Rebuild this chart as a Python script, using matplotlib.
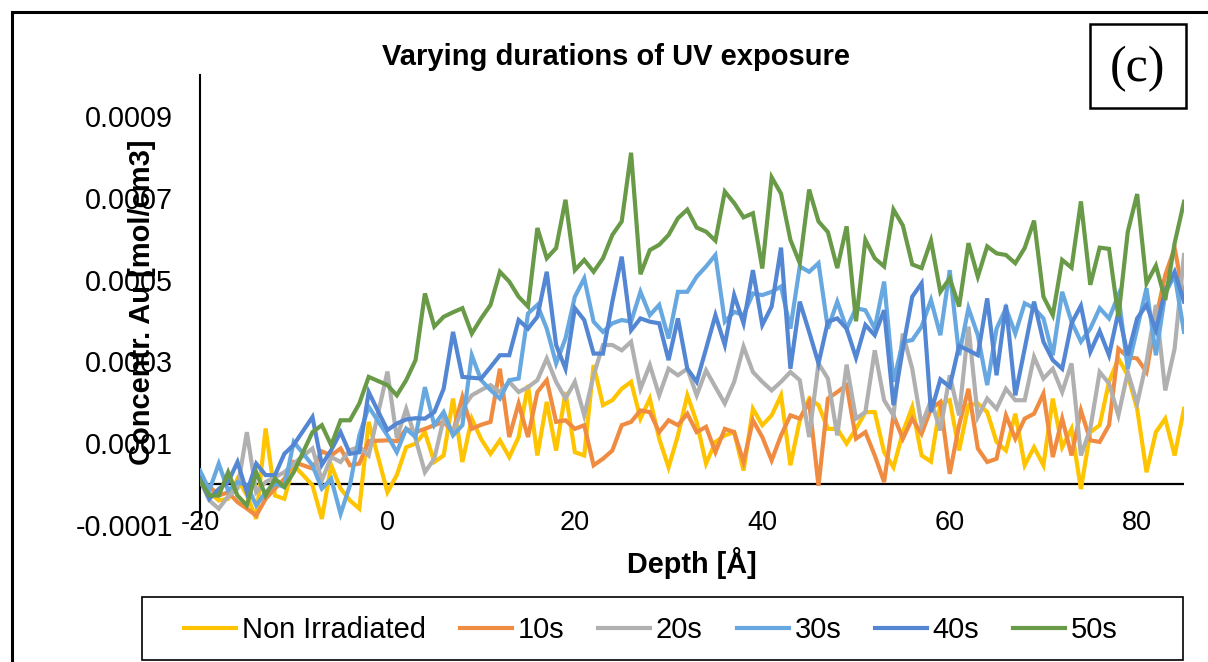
import numpy as np
import matplotlib
matplotlib.use("Agg")
import matplotlib.pyplot as plt
from matplotlib.patches import Rectangle
from matplotlib.lines import Line2D

plt.rcParams['font.family'] = ['Liberation Sans', 'DejaVu Sans']

# depth grid [A], one point per Angstrom
depth = np.arange(-20, 86)

# concentrations, in units of 1e-5 mol/cm3
non_irr = [0.5, -2.0, -4.0, -3.6, 1.3, -2.7, -8.5, 13.6, -2.8, -3.6, 4.6, 2.2, -0.3, -8.5, 4.6, -1.1, -4.0, -6.0, 15.2, 6.6, -2.0, 2.2,
           9.0, 9.9, 12.7, 5.4, 7.0, 20.9, 5.4, 16.0, 11.0, 7.4, 10.7, 6.6, 11.5, 24.2, 7.0, 20.1, 8.2, 22.5, 7.8, 7.0,
           29.1, 19.3, 20.5, 23.3, 25.0, 16.0, 20.9, 11.1, 4.1, 11.9, 21.7, 15.2, 5.0, 10.3, 11.9, 12.7, 3.3, 18.4, 14.4, 16.8, 21.7,
           4.6, 15.6, 20.9, 19.3, 13.5, 13.5, 9.9, 13.5, 17.6, 17.6, 7.8, 4.1, 12.7, 18.8, 7.0, 5.5, 19.7, 20.5, 8.2, 19.3, 19.7, 17.6,
           10.3, 8.2, 17.2, 4.6, 9.0, 4.6, 20.9, 9.0, 13.5, -1.2, 12.7, 14.4, 25.0, 30.7, 26.6, 18.4, 2.9, 12.7, 16.0, 7.0, 18.4]

uv_10s = [0.5, -0.5, -2.8, -2.0, -4.4, -6.0, -7.7, -3.6, -1.1, 1.3, 5.4, 4.6, 3.8, 8.0, 7.0, 8.7, 4.6, 5.0, 10.5, 10.6, 10.7, 10.5,
          13.5, 12.7, 13.5, 14.4, 15.2, 12.7, 21.3, 13.5, 14.5, 15.2, 28.2, 11.5, 19.7, 11.5, 22.5, 25.4, 15.2, 15.6, 13.5, 14.4,
          4.6, 6.2, 8.2, 14.4, 15.2, 18.0, 17.6, 12.7, 15.6, 14.4, 17.2, 12.7, 14.0, 7.8, 13.5, 12.7, 5.4, 15.6, 11.5, 5.8, 11.9,
          16.8, 16.0, 20.1, -0.4, 20.9, 22.5, 24.2, 11.1, 12.7, 7.0, 0.5, 16.8, 11.1, 16.0, 12.3, 18.4, 20.1, 2.5, 14.4, 23.3, 8.7, 5.4,
          6.2, 16.8, 11.1, 16.0, 17.2, 22.1, 6.6, 16.0, 7.0, 18.0, 10.7, 10.3, 14.4, 33.1, 31.1, 30.7, 27.4, 40.5, 51.1, 57.7, 45.4]

uv_20s = [1.0, -4.0, -6.0, -3.0, -1.1, 12.7, -2.0, 0.5, 1.7, 2.9, 5.0, 6.9, 8.7, 0.9, 6.6, 5.4, 8.3, 9.1, 7.0, 17.2, 27.5, 11.3,
          18.4, 11.1, 2.9, 6.2, 16.0, 12.7, 18.4, 21.7, 23.0, 24.2, 22.5, 25.0, 22.5, 23.7, 25.4, 30.7, 25.0, 20.9, 25.0, 16.8,
          26.6, 34.0, 34.0, 32.7, 34.8, 23.3, 29.1, 21.7, 28.2, 26.6, 28.2, 21.7, 27.8, 23.7, 19.7, 25.0, 33.6, 27.4, 25.0, 22.9, 25.0,
          27.4, 25.4, 11.5, 29.5, 25.8, 11.9, 29.2, 16.0, 17.6, 32.7, 20.5, 16.8, 36.8, 28.2, 14.4, 20.5, 13.1, 26.6, 16.8, 38.5, 16.4, 20.9,
          18.4, 23.3, 20.5, 20.5, 31.1, 25.8, 28.2, 22.5, 29.5, 7.0, 13.5, 27.4, 24.6, 16.8, 27.4, 19.7, 29.9, 43.8, 22.9, 33.1, 56.0]

uv_30s = [3.3, -1.5, 5.0, -1.6, 0.5, -0.3, -5.2, -2.0, 0.1, -0.7, 10.3, 7.5, 4.6, -1.1, 1.3, -7.3, -0.3, 11.9, 18.9, 15.4, 11.9, 7.8,
          13.5, 11.5, 23.7, 14.4, 17.6, 11.9, 14.4, 31.5, 25.4, 23.0, 20.9, 25.4, 25.8, 41.7, 43.8, 38.0, 29.5, 35.6, 45.8, 50.3,
          39.7, 37.2, 39.3, 40.1, 39.7, 47.0, 41.3, 43.8, 35.6, 47.0, 47.0, 50.7, 53.2, 56.0, 39.7, 42.1, 41.3, 46.6, 46.2, 47.0, 48.3,
          38.0, 53.2, 51.9, 54.0, 38.0, 44.6, 38.0, 43.0, 42.5, 38.0, 49.5, 25.0, 34.8, 35.2, 38.5, 45.0, 36.4, 52.3, 31.5, 43.0, 36.4, 24.2,
          38.0, 43.0, 36.8, 44.2, 43.0, 40.5, 31.5, 47.0, 39.7, 34.8, 38.0, 43.0, 40.5, 46.2, 28.2, 38.0, 47.9, 31.5, 46.6, 51.1, 37.2]

uv_40s = [1.3, -3.6, -1.2, 0.5, 5.4, -2.0, 5.0, 2.2, 2.2, 7.4, 9.6, 13.0, 16.4, 4.7, 8.3, 12.7, 7.4, 7.8, 22.5, 17.8, 13.2, 14.8,
          15.8, 16.1, 16.0, 17.6, 23.3, 37.2, 26.2, 26.0, 25.8, 28.6, 31.5, 31.5, 40.1, 38.0, 40.9, 51.9, 34.0, 28.2, 43.0, 40.1,
          31.9, 31.9, 44.6, 55.6, 37.6, 40.5, 39.7, 39.3, 30.3, 40.5, 28.2, 25.0, 33.1, 41.3, 34.0, 46.2, 39.3, 52.3, 38.9, 43.4, 57.8,
          28.2, 44.6, 37.2, 29.5, 39.7, 40.5, 38.0, 30.9, 38.9, 36.4, 42.5, 19.3, 33.1, 45.8, 49.1, 17.6, 25.6, 23.8, 33.8, 32.7, 31.5, 45.4,
          26.6, 43.8, 21.7, 33.1, 44.6, 34.8, 30.3, 28.2, 39.3, 43.6, 32.3, 37.4, 31.5, 42.1, 31.5, 40.5, 43.8, 37.6, 47.4, 51.9, 44.6]

uv_50s = [0.9, -2.8, -2.8, 2.9, -2.8, -5.2, 2.9, -2.8, 1.3, -0.7, 2.9, 7.8, 12.7, 14.4, 9.5, 15.6, 15.6, 19.7, 26.2, 25.2, 24.2, 21.7,
          25.4, 30.3, 46.6, 38.5, 40.9, 42.0, 43.0, 36.8, 40.5, 43.8, 51.9, 49.5, 45.8, 43.4, 62.6, 55.2, 57.7, 69.5, 52.3, 54.8,
          51.9, 55.2, 60.9, 64.2, 81.0, 51.3, 57.2, 58.5, 60.9, 65.0, 67.1, 62.7, 61.7, 59.5, 71.5, 68.7, 65.2, 66.2, 52.7, 75.0, 71.0,
          59.7, 54.0, 72.0, 64.2, 61.6, 52.8, 63.0, 39.8, 59.7, 55.2, 53.2, 67.1, 63.2, 53.7, 52.8, 59.5, 47.0, 50.3, 43.4, 58.9, 50.7, 58.1,
          56.4, 56.0, 54.0, 57.7, 64.4, 45.8, 41.3, 54.8, 52.9, 69.1, 48.7, 57.8, 57.5, 40.9, 61.7, 70.9, 49.1, 53.4, 45.0, 58.9, 69.0]

series = [non_irr, uv_10s, uv_20s, uv_30s, uv_40s, uv_50s]
labels = ['Non Irradiated', '10s', '20s', '30s', '40s', '50s']
colors = ['#FFC400', '#F08C42', '#B0B0B0', '#66A8DF', '#5386D3', '#699A47']

xticks = [-20, 0, 20, 40, 60, 80]
yticks = [-0.0001, 0.0001, 0.0003, 0.0005, 0.0007, 0.0009]
ytick_labels = ['-0.0001', '0.0001', '0.0003', '0.0005', '0.0007', '0.0009']

W, H = 1208, 662
fig = plt.figure(figsize=(W / 100, H / 100), dpi=100)
ax = fig.add_axes([200 / W, 1 - 525 / H, 984 / W, 450 / H])

lines = []
for vals, lab, col in zip(series, labels, colors):
    ln, = ax.plot(depth, np.array(vals) * 1e-5, color=col, lw=3.0, label=lab,
                  solid_joinstyle='miter', zorder=3)
    lines.append(ln)

ax.axhline(0, color='black', lw=1.6, zorder=1)
ax.set_xlim(-20, 85)
ax.set_ylim(-0.0001, 0.001)

for s in ['top', 'right', 'bottom']:
    ax.spines[s].set_visible(False)
ax.spines['left'].set_linewidth(1.5)
ax.spines['left'].set_color('black')

ax.set_xticks(xticks)
ax.set_xticklabels([str(t) for t in xticks], fontsize=19.5)
ax.set_yticks(yticks)
ax.set_yticklabels(ytick_labels, fontsize=20.7)
ax.tick_params(axis='both', length=0)
ax.tick_params(axis='y', pad=19.5)
ax.tick_params(axis='x', pad=-11)

# axis titles, title and panel tag
fig.text(142 / W, 1 - 302 / H, 'Concentr. Au [mol/cm3]', rotation=90,
         ha='center', va='center', fontsize=21, fontweight='bold')
fig.text(692 / W, 1 - 563 / H, 'Depth [Å]', ha='center', va='center',
         fontsize=20.8, fontweight='bold')
fig.text(616 / W, 1 - 57 / H, 'Varying durations of UV exposure',
         ha='center', va='center', fontsize=21, fontweight='bold')

fig.add_artist(Rectangle((1090 / W, 1 - 108 / H), 96 / W, 84 / H, fill=False,
                         ec='black', lw=1.8, transform=fig.transFigure))
fig.text(1138 / W, 1 - 69 / H, '(c)', ha='center', va='center', fontsize=36,
         family=['Liberation Serif', 'DejaVu Serif'])

# outer chart border (left and top)
fig.add_artist(Line2D([12 / W, 12 / W], [0, 1 - 12 / H], color='black', lw=2.2,
                      transform=fig.transFigure))
fig.add_artist(Line2D([12 / W, 1], [1 - 12 / H, 1 - 12 / H], color='black', lw=2.2,
                      transform=fig.transFigure))

# legend
fig.add_artist(Rectangle((142 / W, 1 - 660 / H), 1041 / W, 63 / H, fill=False,
                         ec='black', lw=1.2, transform=fig.transFigure))
fig.legend(lines, labels, loc='center', bbox_to_anchor=(651 / W, 1 - 630 / H),
           ncol=6, frameon=False, fontsize=20.9, handlelength=1.79,
           handletextpad=0.2, columnspacing=1.17)

fig.savefig('out.png', dpi=100)
